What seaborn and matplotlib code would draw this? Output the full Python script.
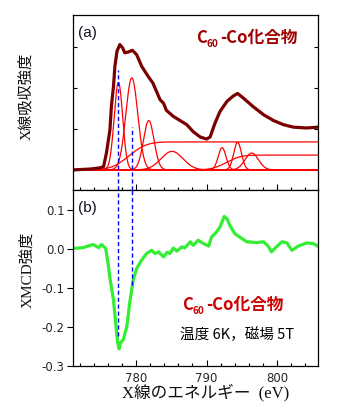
import math
import numpy as np
import pandas as pd
import matplotlib
matplotlib.use("Agg")
import matplotlib.pyplot as plt
import seaborn as sns
from matplotlib.ticker import MultipleLocator, NullFormatter

# ---------------- data ----------------
# Co L-edge X-ray absorption spectrum (arb. units)
xas_energy = [771.1, 773.5, 774.9, 775.4, 775.8, 776.3, 776.5, 776.8, 777.0, 777.3,
              777.7, 778.1, 778.4, 778.9, 779.5, 780.1, 780.8, 781.7, 782.4, 783.4,
              783.9, 784.3, 785.3, 787.2, 788.1, 789.1, 790.0, 790.5, 791.2, 791.9,
              792.9, 793.8, 794.4, 795.2, 796.6, 798.1, 799.5, 800.9, 802.3, 804.2,
              805.8]
xas_intensity = [0.00, 0.02, 0.05, 0.08, 0.41, 0.98, 1.54, 2.03, 2.52, 2.89,
                 3.05, 2.97, 2.85, 2.87, 2.91, 2.80, 2.52, 2.28, 2.11, 1.71,
                 1.62, 1.45, 1.30, 1.10, 0.93, 0.80, 0.75, 0.80, 1.14, 1.42,
                 1.67, 1.80, 1.86, 1.75, 1.54, 1.34, 1.20, 1.10, 1.04, 1.02,
                 1.04]

# Gaussian components of the fit: centre (eV), height, sigma (eV)
peak_centers = [777.5, 779.4, 781.8, 785.1, 792.2, 794.4, 796.4]
peak_heights = [2.13, 2.24, 1.20, 0.45, 0.54, 0.67, 0.41]
peak_sigmas = [0.60, 0.85, 0.75, 1.55, 0.55, 0.55, 0.95]

# edge-jump (step) components: centre (eV), height, width (eV)
step_centers = [779.0, 792.8]
step_heights = [0.68, 0.36]
step_widths = [2.8, 2.3]

# XMCD spectrum
xmcd_energy = [771.1, 772.5, 773.9, 774.7, 775.1, 775.7, 776.1, 776.3, 776.8, 777.2,
               777.4, 777.6, 777.8, 778.2, 778.7, 779.1, 779.6, 780.1, 780.8, 781.5,
               782.2, 782.7, 783.2, 783.9, 784.4, 784.8, 785.3, 785.8, 786.5, 786.9,
               787.7, 788.1, 788.8, 789.6, 790.3, 790.7, 791.4, 791.9, 792.5, 792.9,
               793.3, 794.0, 794.8, 795.7, 797.1, 798.1, 798.8, 799.2, 799.9, 800.7,
               801.4, 802.1, 803.0, 804.2, 805.2, 805.9]
xmcd_intensity = [0.002, 0.004, 0.012, 0.004, 0.012, 0.002, -0.045, -0.075, -0.130, -0.206,
                  -0.240, -0.256, -0.240, -0.232, -0.198, -0.138, -0.079, -0.049, -0.028, -0.011,
                  -0.003, -0.011, -0.007, -0.020, -0.008, -0.011, 0.003, -0.005, 0.006, 0.003,
                  0.019, 0.010, 0.023, 0.014, 0.008, 0.031, 0.044, 0.057, 0.084, 0.078,
                  0.061, 0.040, 0.030, 0.019, 0.017, 0.019, 0.006, -0.007, 0.006, 0.019,
                  0.016, -0.003, 0.008, 0.016, 0.014, 0.006]

# guide lines at the L3 features
marker_energies = [777.5, 779.4]
marker_top_xas = [2.43, 1.05]
marker_bottom_xmcd = [-0.224, -0.092]

xmcd_ticks = [-0.3, -0.2, -0.1, 0.0, 0.1]
energy_ticks = [780, 790, 800]

# ---------------- style ----------------
sns.set_theme(style="ticks")
plt.rcParams['font.family'] = ['DejaVu Sans', 'Noto Sans CJK JP']
SERIF_JP = ['Liberation Serif', 'Noto Sans CJK JP']
BOLD_JP = ['Noto Sans CJK JP', 'DejaVu Sans']

W, H = 338, 413
fig = plt.figure(figsize=(W / 100, H / 100), dpi=100)
fig.patch.set_facecolor('white')


def frac(x_px, y_px):
    return x_px / W, 1 - y_px / H


ax1 = fig.add_axes([73 / W, 1 - 190 / H, 245 / W, 175 / H])
ax2 = fig.add_axes([73 / W, 1 - 366 / H, 245 / W, 176 / H])

xmin, xmax = 771.06, 805.8

# ---------------- (a) XAS with fit components ----------------
grid = np.linspace(xmin, xmax, 700)
erf_v = np.vectorize(math.erf)
comp_frames = []
for i, (c, h, s) in enumerate(zip(peak_centers, peak_heights, peak_sigmas)):
    comp_frames.append(pd.DataFrame({'E': grid, 'I': h * np.exp(-0.5 * ((grid - c) / s) ** 2),
                                     'comp': f'g{i}'}))
for i, (c, h, w) in enumerate(zip(step_centers, step_heights, step_widths)):
    comp_frames.append(pd.DataFrame({'E': grid, 'I': h * 0.5 * (1 + erf_v((grid - c) / w)),
                                     'comp': f's{i}'}))
comps = pd.concat(comp_frames, ignore_index=True)
names = comps['comp'].unique()
sns.lineplot(data=comps, x='E', y='I', hue='comp', palette=['#ff0000'] * len(names),
             estimator=None, sort=False, lw=0.9, legend=False, ax=ax1)

xas = pd.DataFrame({'E': xas_energy, 'I': xas_intensity})
sns.lineplot(data=xas, x='E', y='I', color='#7a0000', lw=2.3, estimator=None,
             sort=False, ax=ax1)

ax1.vlines(marker_energies, [-0.49, -0.49], marker_top_xas, colors='#0000ff',
           linestyles=(0, (3, 2)), lw=1.0, zorder=5)

ax1.set_xlim(xmin, xmax)
ax1.set_ylim(-0.49, 3.77)
ax1.yaxis.set_major_locator(MultipleLocator(1))
ax1.xaxis.set_major_locator(MultipleLocator(10))
ax1.xaxis.set_minor_locator(MultipleLocator(2))
ax1.xaxis.set_major_formatter(NullFormatter())
ax1.yaxis.set_major_formatter(NullFormatter())
ax1.tick_params(axis='y', which='major', direction='in', left=True, right=True,
                length=3, width=0.8, color='black')
ax1.tick_params(axis='x', which='major', direction='in', bottom=True, top=False,
                length=4, width=0.8, color='black')
ax1.tick_params(axis='x', which='minor', direction='in', bottom=True, top=False,
                length=2, width=0.8, color='black')
ax1.set_xlabel('')
ax1.set_ylabel('')

# ---------------- (b) XMCD ----------------
xmcd = pd.DataFrame({'E': xmcd_energy, 'I': xmcd_intensity})
sns.lineplot(data=xmcd, x='E', y='I', color='#33ee33', lw=2.3, estimator=None,
             sort=False, ax=ax2)
ax2.vlines(marker_energies, marker_bottom_xmcd, [0.152, 0.152], colors='#0000ff',
           linestyles=(0, (3, 2)), lw=1.0, zorder=5)

ax2.set_xlim(xmin, xmax)
ax2.set_ylim(-0.3, 0.152)
ax2.set_yticks(xmcd_ticks)
ax2.set_yticklabels([f'{v:.1f}' for v in xmcd_ticks])
ax2.set_xticks(energy_ticks)
ax2.set_xticklabels([str(v) for v in energy_ticks])
ax2.xaxis.set_minor_locator(MultipleLocator(2))
ax2.tick_params(axis='x', which='major', direction='in', bottom=True, top=False,
                length=4, width=0.8, pad=4, labelsize=8.5, color='black')
ax2.tick_params(axis='x', which='minor', direction='in', bottom=True, top=False,
                length=2, width=0.8, color='black')
ax2.tick_params(axis='y', which='major', direction='out', left=True, right=False,
                length=4, width=0.8, pad=2, labelsize=8.5, color='black')
ax2.set_xlabel('')
ax2.set_ylabel('')

for ax in (ax1, ax2):
    for sp in ax.spines.values():
        sp.set_visible(True)
        sp.set_linewidth(0.9)
        sp.set_color('black')
    ax.set_facecolor('white')

# ---------------- labels ----------------
fig.text(*frac(26, 96), 'X線吸収強度', rotation=90, ha='center', va='center',
         family=SERIF_JP, fontsize=11, color='#111111')
fig.text(*frac(27, 270), 'XMCD強度', rotation=90, ha='center', va='center',
         family=SERIF_JP, fontsize=11, color='#111111')
fig.text(*frac(206, 392), 'X線のエネルギー  (eV)', ha='center', va='center',
         family=SERIF_JP, fontsize=12, color='#111111')

fig.text(*frac(78, 37), '(a)', ha='left', va='baseline', fontsize=11,
         family=['Liberation Sans', 'DejaVu Sans'], color='#111122')
fig.text(*frac(78, 212), '(b)', ha='left', va='baseline', fontsize=11,
         family=['Liberation Sans', 'DejaVu Sans'], color='#111122')

renderer = fig.canvas.get_renderer()


def compound_label(x_px, base_px, color, size):
    """Draw 'C60-Co化合物' with a subscript 60, starting at pixel (x_px, base_px)."""
    t1 = fig.text(*frac(x_px, base_px), 'C', ha='left', va='baseline', family=BOLD_JP,
                  fontsize=size, fontweight='bold', color=color)
    w1 = t1.get_window_extent(renderer).width
    t2 = fig.text(*frac(x_px + w1, base_px + 4), '60', ha='left', va='baseline',
                  family=BOLD_JP, fontsize=size * 0.6, fontweight='bold', color=color)
    w2 = t2.get_window_extent(renderer).width
    fig.text(*frac(x_px + w1 + w2 + 1, base_px), '-Co化合物', ha='left', va='baseline',
             family=BOLD_JP, fontsize=size, fontweight='bold', color=color)


compound_label(196, 43, '#a00000', 12)
compound_label(182, 310, '#cc0000', 12)
fig.text(*frac(180, 339), '温度 6K，磁場 5T', ha='left', va='baseline',
         family=['Noto Sans CJK JP', 'DejaVu Sans'], fontsize=10.5, color='black')

fig.savefig('out.png', dpi=100)
